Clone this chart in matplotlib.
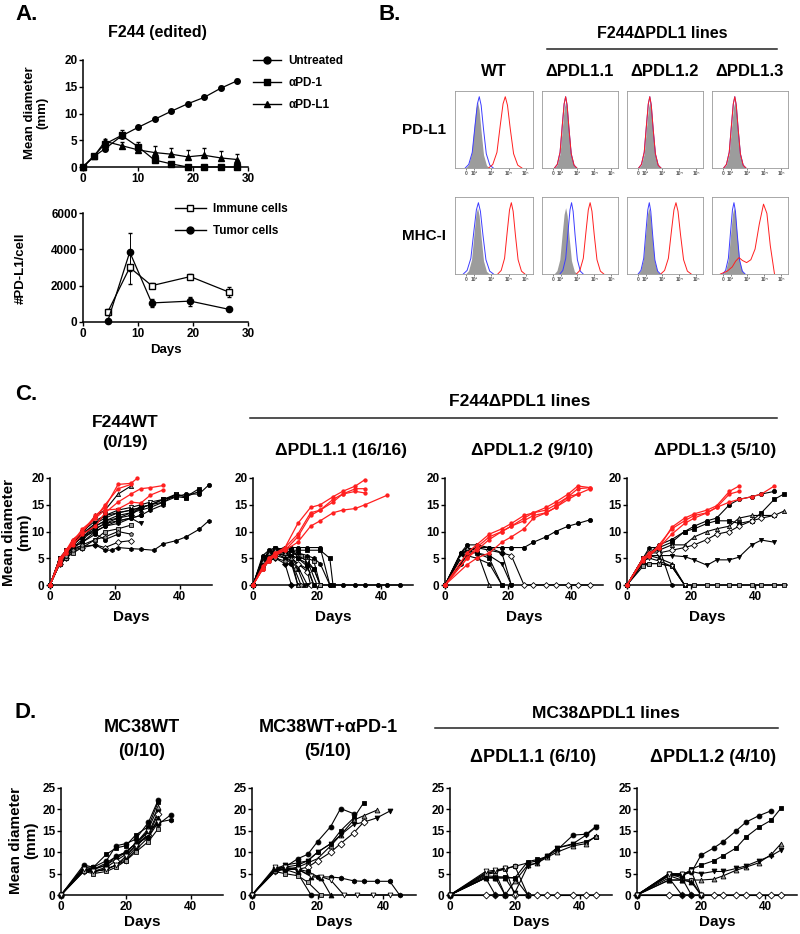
import matplotlib
matplotlib.use('Agg')

import matplotlib.pyplot as plt
from matplotlib.lines import Line2D

plt.rcParams['font.family'] = ['Liberation Sans', 'DejaVu Sans']
plt.rcParams['font.weight'] = 'bold'
plt.rcParams['axes.labelweight'] = 'bold'
plt.rcParams['axes.linewidth'] = 1.1

# ---------------- panel A data ----------------
a_days = [0, 2, 4, 7, 10, 13, 16, 19, 22, 25, 28]
untreated = [0, 2.0, 3.4, 5.8, 7.4, 8.9, 10.4, 11.8, 13.0, 14.7, 16.1]
untreated_err = [0, 0.2, 0.3, 0.4, 0.3, 0.3, 0.3, 0.3, 0.3, 0.4, 0.4]
apd1 = [0, 2.1, 4.3, 5.9, 3.8, 1.3, 0.6, 0, 0, 0, 0]
apd1_err = [0, 0.2, 0.4, 1.0, 0.8, 0.5, 0.3, 0, 0, 0, 0]
apdl1 = [0, 2.0, 4.8, 4.0, 3.2, 2.7, 2.4, 1.9, 2.2, 1.7, 1.4]
apdl1_err = [0, 0.3, 0.4, 0.6, 1.0, 1.3, 1.2, 1.3, 1.4, 1.3, 1.0]

pd_days = [4.5, 8.5, 12.5, 19.5, 26.5]
immune = [550, 3000, 2000, 2500, 1650]
immune_err = [150, 900, 150, 120, 300]
tumor = [50, 3850, 1050, 1150, 700]
tumor_err = [0, 1050, 200, 250, 80]

# ---------------- panel B data (flow histograms) ----------------
b_cols = ['WT', '\u0394PDL1.1', '\u0394PDL1.2', '\u0394PDL1.3']
b_rows = ['PD-L1', 'MHC-I']
b_tick_pos = [1.55, 2, 3, 4, 5]
b_tick_lab = ['0', '10\u00b2', '10\u00b3', '10\u2074', '10\u2075']
# one peak shape (log decades from the mode, % of mode)
prof_dx = [-0.6, -0.45, -0.3, -0.18, -0.08, 0, 0.08, 0.18, 0.3, 0.45, 0.6]
prof_h = [0, 5, 22, 60, 90, 100, 88, 55, 20, 4, 0]
iso_center = [[2.2, 2.3, 2.25, 2.25], [2.2, 2.3, 2.2, 2.2]]
iso_width = [[1.15, 1.1, 1.1, 1.1], [1.15, 1.15, 1.1, 1.1]]
blue_center = [[2.3, 2.3, 2.25, 2.25], [2.25, 2.65, 2.22, 2.2]]
blue_width = [[1.35, 1.1, 1.1, 1.1], [1.45, 1.15, 1.1, 1.1]]
red_center = [[3.8, 2.3, 2.25, 2.25], [4.15, 3.75, 3.8, None]]
red_width = [[1.6, 1.1, 1.1, 1.1], [1.3, 1.35, 1.5, None]]
red_bimodal_x = [1.4, 1.8, 2.1, 2.3, 2.5, 2.7, 2.95, 3.2, 3.45, 3.7, 3.95, 4.15, 4.35, 4.6]
red_bimodal_y = [0, 4, 10, 18, 23, 19, 16, 20, 35, 70, 98, 85, 40, 0]

# ---------------- panel C data (individual mice) ----------------
c_wt_red = [
    ([0, 3, 5, 7, 10, 14, 17, 21, 25, 27], [0, 5, 6.5, 8.5, 10, 13, 14.5, 18.8, 19, 20]),
    ([0, 3, 5, 7, 10, 14, 17, 21, 25], [0, 4.5, 6, 8, 10.5, 12.5, 15, 18, 18.8]),
    ([0, 3, 5, 7, 10, 14, 17, 21, 25, 28, 31, 35], [0, 4, 6, 7.5, 9.5, 11, 13.5, 15.5, 17, 18, 18.2, 18.6]),
    ([0, 3, 5, 7, 10, 14, 17, 21, 25, 28, 31, 35], [0, 4.5, 6.5, 8, 10, 12.5, 14, 14.2, 15.5, 15.3, 16.8, 17.8]),
]
c_wt_black = [
    ([0, 3, 5, 7, 10, 14, 17, 21, 25, 28, 31, 35, 39, 42, 46, 49],
     [0, 5, 6.5, 8, 9.5, 11.5, 12.5, 13.5, 14, 14.5, 15, 16, 16.5, 17, 17, 18.7]),
    ([0, 3, 5, 7, 10, 14, 17, 21, 25, 28, 31, 35, 39, 42, 46],
     [0, 4.5, 6, 7.5, 9, 11, 12, 13, 13.5, 14.5, 15, 15.5, 17, 16.5, 18]),
    ([0, 3, 5, 7, 10, 14, 17, 21, 25], [0, 5, 6, 8.5, 9.5, 13, 14, 17, 18.5]),
    ([0, 3, 5, 7, 10, 14, 17, 21, 25, 28], [0, 4, 6, 7, 8.5, 10.5, 11.5, 12, 12.5, 11.5]),
    ([0, 3, 5, 7, 10, 14, 17, 21, 25], [0, 4, 5, 6.5, 7, 7.5, 7, 8, 8.3]),
    ([0, 3, 5, 7, 10, 14, 17, 19, 21, 25, 28, 32, 35, 39, 42, 46, 49],
     [0, 4, 6, 7, 7.2, 7.5, 6.5, 6.5, 7, 6.8, 6.7, 6.5, 7.7, 8.3, 9, 10.4, 12]),
    ([0, 3, 5, 7, 10, 14, 17, 21], [0, 5, 6, 7, 8, 9.5, 8.5, 9.5]),
    ([0, 3, 5, 7, 10, 14, 17, 21, 25], [0, 4, 5, 6, 7, 8.5, 10, 10.5, 11.2]),
    ([0, 3, 5, 7, 10, 14, 17, 21, 25, 28, 31, 35, 39, 42],
     [0, 4.5, 6.5, 8, 9.5, 11, 12, 12.5, 13.5, 14, 14.5, 15.5, 16.5, 16.3]),
    ([0, 3, 5, 7, 10, 14, 17, 21, 25, 28, 31, 35, 39],
     [0, 5, 6, 7.5, 10, 12, 13, 14, 14.5, 15, 15.5, 16, 17]),
    ([0, 3, 5, 7, 10, 14, 17, 21, 25, 28], [0, 4.5, 6, 7.5, 9, 10.5, 11.5, 12.5, 13, 14.5]),
    ([0, 3, 5, 7, 10, 14, 17, 21, 25, 28, 31, 35], [0, 4, 5.5, 7, 8, 10, 11, 11.5, 12.5, 13, 14, 15]),
    ([0, 3, 5, 7, 10, 14, 17, 21, 25], [0, 4.5, 5.5, 6.5, 7.5, 8.5, 9, 10, 9.5]),
    ([0, 3, 5, 7, 10, 14, 17, 21, 25, 28], [0, 4.5, 6.5, 7.5, 9, 10, 11, 12, 12.5, 13]),
    ([0, 3, 5, 7, 10, 14, 17, 21, 25, 28, 31, 35, 39, 42, 46],
     [0, 5, 6.5, 8, 9.5, 11.5, 13, 13.5, 14, 14.5, 15, 16, 16.8, 16.5, 17.5]),
]

c_p1_red = [
    ([0, 3, 5, 7, 10, 14, 18, 21, 25, 28, 32, 35], [0, 3, 4.5, 6, 7, 11.5, 14.5, 15, 16.5, 17.5, 18.5, 19.7]),
    ([0, 3, 5, 7, 10, 14, 18, 21, 25, 28, 32, 35], [0, 3, 5, 5.5, 7, 9.5, 13.5, 14, 16, 17, 18, 18]),
    ([0, 3, 5, 7, 10, 14, 18, 21, 25, 28, 32, 35], [0, 3.5, 5, 6, 6.5, 9, 13, 14, 15.5, 17, 17.5, 17.2]),
    ([0, 3, 5, 7, 10, 14, 18, 21, 25, 28, 32, 35, 42],
     [0, 3, 4.5, 5.5, 6.5, 8, 11, 12, 13.5, 14, 14.3, 15, 16.8]),
]
c_p1_black = [
    ([0, 3, 5, 7, 10, 12, 14, 17, 21, 24], [0, 4, 5.5, 6.5, 7, 7, 7, 7, 7, 0]),
    ([0, 3, 5, 7, 10, 12, 14, 17, 19, 21], [0, 5, 6, 6.5, 6, 5.5, 5, 4, 3, 0]),
    ([0, 3, 5, 7, 10, 12, 14, 17, 19], [0, 4.5, 5.5, 6, 5.5, 5, 4, 3, 0]),
    ([0, 3, 5, 7, 10, 12, 14, 17], [0, 5, 6, 6.5, 6, 5, 3.5, 0]),
    ([0, 3, 5, 7, 10, 12, 14, 17, 18], [0, 4, 6, 6, 5.5, 5, 4, 2.5, 0]),
    ([0, 3, 5, 7, 10, 12, 14], [0, 3.5, 5, 5.5, 5, 4, 0]),
    ([0, 3, 5, 7, 10, 12, 14, 17, 19, 21, 24, 28, 32, 35, 39, 42, 46],
     [0, 4, 5, 6, 6, 6.5, 5.5, 4.5, 3, 0, 0, 0, 0, 0, 0, 0, 0]),
    ([0, 3, 5, 7, 10, 12, 15, 17, 19, 21], [0, 5, 6, 7, 6.5, 6, 5.5, 5, 4.5, 0]),
    ([0, 3, 5, 7, 10, 12, 14, 16], [0, 4.5, 5.5, 6, 5, 4.5, 3, 0]),
    ([0, 3, 5, 7, 10, 12, 14, 17, 20], [0, 5, 6, 6.5, 6.5, 6, 5.5, 4.5, 0]),
    ([0, 3, 5, 7, 10, 12], [0, 4, 5, 5, 4, 0]),
    ([0, 3, 5, 7, 10, 12, 14, 17, 19, 21, 24], [0, 4.5, 5.5, 6.5, 7, 6.5, 6, 5.5, 5, 4, 0]),
    ([0, 3, 5, 7, 10, 13, 15], [0, 3, 4.5, 5, 4.5, 3, 0]),
    ([0, 3, 5, 7, 10, 12, 14, 17, 19], [0, 5.5, 6.5, 7, 6.5, 5.5, 5, 3.5, 0]),
    ([0, 3, 5, 7, 10, 12, 14, 17, 21, 24, 25], [0, 4, 5, 6, 6, 6.5, 6.5, 6.5, 6.5, 5, 0]),
    ([0, 3, 5, 7, 10, 12, 14], [0, 4.5, 6, 6.5, 6, 5, 0]),
]

c_p2_red = [
    ([0, 7, 10, 14, 18, 21, 25, 28, 32, 35, 39, 42, 46], [0, 5, 7, 9, 10, 11, 12.5, 13.5, 14.5, 15.5, 17, 18.5, 18.2]),
    ([0, 7, 10, 14, 18, 21, 25, 28, 32, 35, 39, 42, 46], [0, 6, 7.5, 9.5, 10.5, 11.5, 13, 13.5, 14, 15, 16.5, 18, 18.2]),
    ([0, 7, 10, 14, 18, 21, 25, 28, 32, 35, 39, 42, 46], [0, 5, 6.5, 8.5, 10, 11, 12, 13, 13.5, 14.5, 16, 17, 18]),
    ([0, 7, 10, 14, 18, 21, 25, 28, 32, 35, 39, 42], [0, 3.8, 5, 6, 8, 9, 10.5, 12.5, 13.5, 14.5, 16.5, 17]),
]
c_p2_black = [
    ([0, 5, 7, 10, 14, 18, 21, 25, 28, 32, 35, 39, 42, 46], [0, 6, 6.5, 7, 7, 7, 7, 7, 8, 9, 10, 11, 11.5, 12.2]),
    ([0, 5, 7, 10, 14, 18], [0, 5.5, 6.5, 6, 5, 0]),
    ([0, 5, 7, 10, 14], [0, 6, 7, 6.5, 0]),
    ([0, 5, 7, 10, 14, 18, 21], [0, 5, 6, 6, 5.5, 4, 0]),
    ([0, 5, 7, 10, 14, 18, 21, 25, 28, 32, 35, 39, 42, 46], [0, 5, 6, 7, 6.5, 6, 5.5, 0, 0, 0, 0, 0, 0, 0]),
    ([0, 5, 7, 10, 14, 18], [0, 4, 5.5, 5, 4, 0]),
    ([0, 5, 7, 10, 14, 18, 21], [0, 6, 7.5, 7.5, 7, 6, 0]),
]

c_p3_red = [
    ([0, 5, 7, 10, 14, 18, 21, 25, 28, 32, 35], [0, 5, 5.5, 7, 10.8, 12.5, 13.3, 14, 14.8, 17.5, 18.5]),
    ([0, 5, 7, 10, 14, 18, 21, 25, 28, 32, 35], [0, 4.5, 5.5, 7.5, 10.5, 12, 13, 13.5, 14.5, 17, 17.5]),
    ([0, 5, 7, 10, 14, 18, 21, 25, 28, 32, 35, 39, 42, 46],
     [0, 5, 6, 7, 9.5, 11.5, 12.5, 13.5, 14.5, 15.5, 16, 16.5, 17, 18.5]),
]
c_p3_black = [
    ([0, 5, 7, 10, 14, 18, 21, 25, 28, 32, 35, 39, 42, 46],
     [0, 5, 6, 7.5, 8.5, 10, 11, 12, 12.5, 15, 16, 16.5, 17, 17.5]),
    ([0, 5, 7, 10, 14, 18, 21, 25, 28, 32, 35, 39, 42, 46, 49],
     [0, 4.5, 5.5, 7, 8, 10, 10.5, 11.5, 12, 12, 11.5, 12, 13.5, 16, 17]),
    ([0, 5, 7, 10, 14, 18, 21, 25, 28, 32, 35, 39, 42, 46, 49],
     [0, 5, 6, 6.5, 7.5, 7.5, 9, 10, 10.5, 11, 12.5, 13, 13, 13, 13.8]),
    ([0, 5, 7, 10, 14, 18, 21, 25, 28, 32, 35, 39, 42, 46],
     [0, 5, 5.5, 5.5, 5.5, 5.3, 4.7, 3.7, 4.7, 4.7, 5.2, 7.5, 8.4, 8.0]),
    ([0, 5, 7, 10, 14, 18, 21, 25, 28, 32, 35, 39, 42, 46],
     [0, 4, 6, 6, 6.5, 7, 7.5, 8.5, 9.5, 10, 11, 12, 12.5, 13]),
    ([0, 5, 7, 10, 14], [0, 5, 7, 7, 0]),
    ([0, 5, 7, 10, 14, 18], [0, 4, 4, 4, 3.5, 0]),
    ([0, 5, 7, 10, 14, 18, 21, 25, 28, 32, 35, 39, 42, 46, 49],
     [0, 3.5, 4, 4, 3.5, 0, 0, 0, 0, 0, 0, 0, 0, 0, 0]),
    ([0, 5, 7, 10, 14, 18], [0, 5, 5.5, 5, 4, 0]),
    ([0, 5, 7, 10, 14, 18], [0, 4.5, 5, 4.5, 3.5, 0]),
]

# ---------------- panel D data ----------------
d_wt = [
    ([0, 7, 10, 14, 17, 20, 23, 27, 30], [0, 7, 6.5, 8, 11.5, 12, 13, 17, 22.2]),
    ([0, 7, 10, 14, 17, 20, 23, 27, 30], [0, 6.5, 6.5, 9.5, 11, 11.5, 14, 16, 21.8]),
    ([0, 7, 10, 14, 17, 20, 23, 27, 30], [0, 6, 6, 7, 8.5, 10, 12, 15.5, 20.5]),
    ([0, 7, 10, 14, 17, 20, 23, 27, 30], [0, 6, 5.5, 6, 7, 8.5, 11, 14.5, 19.5]),
    ([0, 7, 10, 14, 17, 20, 23, 27, 30], [0, 5.5, 5.5, 6.5, 8, 9.5, 11.5, 14, 19]),
    ([0, 7, 10, 14, 17, 20, 23, 27, 30, 34], [0, 6, 5.5, 6, 7, 8, 10.5, 13.5, 17, 17.6]),
    ([0, 7, 10, 14, 17, 20, 23, 27, 30, 34], [0, 6, 6, 7, 9, 10, 12, 15, 16.5, 18.8]),
    ([0, 7, 10, 14, 17, 20, 23, 27, 30], [0, 5.5, 5, 5.5, 6.5, 8, 10, 12.5, 15.5]),
    ([0, 7, 10, 14, 17, 20, 23, 27, 30], [0, 6.5, 6, 7.5, 9, 10, 12, 13.5, 18]),
    ([0, 7, 10, 14, 17, 20, 23, 27, 30], [0, 6, 5.5, 6, 7, 9, 11.5, 15, 17]),
]
d_apd1 = [
    ([0, 7, 10, 14, 17, 20, 24, 27, 31], [0, 6, 6.5, 8.5, 9.5, 12.5, 16, 20.2, 19]),
    ([0, 7, 10, 14, 17, 20, 24, 27, 31, 34], [0, 6, 6.5, 7, 8, 10, 12, 15, 18, 21.5]),
    ([0, 7, 10, 14, 17, 20, 24, 27, 31, 34, 38], [0, 6, 6, 6.5, 7.5, 8.5, 11.5, 14, 17.5, 18.5, 19.8]),
    ([0, 7, 10, 14, 17, 20, 24, 27, 31, 34, 38, 42], [0, 6, 7, 7.5, 8, 10, 12, 14, 16.5, 17, 18, 19.6]),
    ([0, 7, 10, 14, 17, 20, 24, 27, 31, 34], [0, 5.5, 6, 6, 6.5, 8, 10, 12, 14.5, 17]),
    ([0, 7, 10, 14, 17, 20, 24, 27, 31, 34, 38, 42, 45], [0, 6, 6, 6, 5.5, 4.3, 4.2, 4, 3.3, 3.2, 3.2, 3.2, 0]),
    ([0, 7, 10, 14, 18], [0, 6, 6, 5, 0]),
    ([0, 7, 10, 14, 17, 21], [0, 5.5, 5, 4.5, 3, 0]),
    ([0, 7, 10, 14, 18, 21, 24], [0, 6, 6, 6, 4.3, 4, 0]),
    ([0, 7, 10, 14, 18, 21, 24, 28, 32, 37, 42], [0, 6.5, 6.5, 6, 4.5, 4.3, 3.5, 0, 0, 0, 0]),
]
d_p1 = [
    ([0, 11, 14, 17, 20, 24, 27, 30, 33, 38, 42, 45], [0, 5.2, 5.5, 6.2, 6.7, 7.5, 8, 9, 10.5, 14, 14.2, 16]),
    ([0, 11, 14, 17, 20, 24, 27, 30, 33, 38, 42, 45], [0, 4.5, 4.3, 4.2, 4, 7.8, 8.3, 9, 11, 11.8, 12.5, 13.5]),
    ([0, 11, 14, 17, 20, 24, 27, 30, 33, 38, 42, 45], [0, 4.8, 5.2, 0, 3.2, 7, 7.5, 8.8, 10, 11.5, 12, 13.8]),
    ([0, 11, 14, 17, 20, 24, 27, 30, 33, 38, 42, 45], [0, 4, 4, 4, 0.5, 6.8, 7.5, 9.2, 11, 12, 14, 15.8]),
    ([0, 11, 14, 17, 20, 24, 27, 30, 33, 38, 42, 45], [0, 0, 0, 0, 0, 0, 0, 0, 0, 0, 0, 0]),
    ([0, 11, 14], [0, 4, 0]),
    ([0, 11, 14, 17], [0, 4.2, 4, 0]),
    ([0, 11, 14, 17, 20, 24], [0, 5, 5.5, 6, 6.8, 0]),
    ([0, 11, 14, 17, 20, 24], [0, 4, 4, 4, 4, 0]),
    ([0, 11, 14, 17, 20], [0, 5.5, 5.8, 6.3, 0]),
]
d_p2 = [
    ([0, 10, 14, 17, 20, 24, 27, 31, 34, 38, 42], [0, 4.8, 4.8, 5.3, 9.3, 11, 12.5, 15, 17, 18.5, 19.7]),
    ([0, 10, 14, 17, 20, 24, 27, 31, 34, 38, 42, 45], [0, 4.5, 4.5, 6, 7, 8, 9.2, 11, 13.5, 15.8, 17.5, 20.3]),
    ([0, 10, 14, 17, 20, 24, 27, 31, 34, 38, 42, 45], [0, 3.5, 3.5, 3.5, 3.5, 3.7, 4.5, 5.8, 6.5, 7.5, 9.5, 12]),
    ([0, 10, 14, 17, 20, 24, 27, 31, 34, 38, 42, 45], [0, 4.8, 4.5, 5.5, 5, 5.5, 5.5, 6.2, 6.8, 8, 9.2, 10.5]),
    ([0, 10, 14, 17, 20, 24, 27, 31, 34, 38, 42, 45], [0, 0, 0, 0, 0, 0, 0, 0, 0, 0, 0, 0]),
    ([0, 10, 14], [0, 4, 0]),
    ([0, 10, 14, 17], [0, 5, 4, 0]),
    ([0, 10, 14, 17, 20], [0, 4.5, 3.5, 3.5, 0]),
    ([0, 10, 14, 17, 20], [0, 3.5, 3.5, 3, 0]),
    ([0, 10, 14, 17, 20], [0, 5, 5, 5.5, 0]),
]

MARKS = ['o', 's', '^', 'v', 'D', 'h', 'o', 's', '^', 'v', 'D', 'h', 'p']
FACES = ['k', 'k', '0.6', 'k', 'white', 'k', 'k', '0.6', 'k', 'white', 'k', 'k', '0.6']
RED = '#ff1f1f'

W, H = 800, 934
fig = plt.figure(figsize=(8, 9.34), dpi=100)


def add_ax(x0, y0, x1, y1):
    return fig.add_axes([x0 / W, 1 - y1 / H, (x1 - x0) / W, (y1 - y0) / H])


def ftext(x, y, s, size, ha='center', rot=0, ls=1.1):
    fig.text(x / W, 1 - y / H, s, fontsize=size, ha=ha, va='center', fontweight='bold',
             rotation=rot, linespacing=ls, multialignment='center')


def hline(x0, x1, y):
    fig.add_artist(Line2D([x0 / W, x1 / W], [1 - y / H, 1 - y / H], color='#222222', lw=1.1))


def prism(ax, xmax, ymax, xticks, yticks):
    for s in ['top', 'right']:
        ax.spines[s].set_visible(False)
    ax.set_xlim(0, xmax)
    ax.set_ylim(0, ymax)
    ax.set_xticks(xticks)
    ax.set_yticks(yticks)
    ax.tick_params(direction='out', length=3, width=1.0, labelsize=8.5, pad=1)


def draw_mice(ax, curves, color, ms):
    for i, (d, v) in enumerate(curves):
        if color == RED:
            ax.plot(d, v, color=RED, lw=0.9, marker='o', ms=ms * 0.7, mfc=RED, mec=RED,
                    clip_on=False, zorder=4)
        else:
            ax.plot(d, v, color='k', lw=0.8, marker=MARKS[i % len(MARKS)], ms=ms,
                    mfc=FACES[i % len(FACES)], mec='k', mew=0.6, clip_on=False, zorder=3)


def key(marker, face='k'):
    return Line2D([], [], color='k', lw=1.0, marker=marker, ms=5, mfc=face, mec='k')


# ================= A =================
ftext(15, 15, 'A.', 16, ha='left')
ftext(157, 33, 'F244 (edited)', 11.5)
ax = add_ax(83, 60, 248, 167)
prism(ax, 30, 20, [0, 10, 20, 30], [0, 5, 10, 15, 20])
zero = [0] * len(a_days)
ax.errorbar(a_days, untreated, yerr=[zero, untreated_err], color='k', lw=0.9, marker='o', ms=4,
            capsize=1.5, elinewidth=0.7, clip_on=False)
ax.errorbar(a_days, apd1, yerr=[zero, apd1_err], color='k', lw=0.9, marker='s', ms=4,
            capsize=1.5, elinewidth=0.7, clip_on=False)
ax.errorbar(a_days, apdl1, yerr=[zero, apdl1_err], color='k', lw=0.9, marker='^', ms=4,
            capsize=1.5, elinewidth=0.7, clip_on=False)
ax.legend([key('o'), key('s'), key('^')], ['Untreated', '\u03b1PD-1', '\u03b1PD-L1'],
          loc='upper left', bbox_to_anchor=(253 / W, 1 - 55 / H), bbox_transform=fig.transFigure,
          frameon=False, fontsize=8.5, handlelength=2.4, labelspacing=0.85, borderpad=0,
          borderaxespad=0, handletextpad=0.6)
ftext(36, 113, 'Mean diameter\n(mm)', 9.5, rot=90)

ax = add_ax(83, 213, 248, 322)
prism(ax, 30, 6000, [0, 10, 20, 30], [0, 2000, 4000, 6000])
ax.errorbar(pd_days, immune, yerr=immune_err, color='k', lw=0.9, marker='s', ms=4.5, mfc='white',
            capsize=1.5, elinewidth=0.7, clip_on=False)
ax.errorbar(pd_days, tumor, yerr=tumor_err, color='k', lw=0.9, marker='o', ms=4.5,
            capsize=1.5, elinewidth=0.7, clip_on=False)
ax.legend([key('s', 'white'), key('o')], ['Immune cells', 'Tumor cells'],
          loc='upper left', bbox_to_anchor=(175 / W, 1 - 203 / H), bbox_transform=fig.transFigure,
          frameon=False, fontsize=8.5, handlelength=2.6, labelspacing=0.85, borderpad=0,
          borderaxespad=0, handletextpad=0.6)
ax.set_xlabel('Days', fontsize=9.5, labelpad=3)
ftext(21, 268, '#PD-L1/cell', 9.5, rot=90)

# ================= B =================
ftext(378, 15, 'B.', 16, ha='left')
ftext(662, 33, 'F244\u0394PDL1 lines', 11.5)
hline(547, 777, 49)
bx = [(455, 533), (542, 618), (627, 703), (712, 788)]
by = [(91, 168), (197, 274)]
for c, name in enumerate(b_cols):
    ftext((bx[c][0] + bx[c][1]) / 2, 72, name, 12)
for r, name in enumerate(b_rows):
    ftext(446, (by[r][0] + by[r][1]) / 2, name, 11, ha='right')
    for c in range(4):
        ax = add_ax(bx[c][0], by[r][0], bx[c][1], by[r][1])
        gx = [iso_center[r][c] + d * iso_width[r][c] for d in prof_dx]
        gy = [h * 0.93 for h in prof_h]
        ax.fill_between(gx, gy, color='#9c9c9c', lw=0)
        ux = [blue_center[r][c] + d * blue_width[r][c] for d in prof_dx]
        ax.plot(ux, prof_h, color='#3c3cff', lw=0.7)
        if red_center[r][c] is None:
            ax.plot(red_bimodal_x, red_bimodal_y, color=RED, lw=0.7)
        else:
            rx = [red_center[r][c] + d * red_width[r][c] for d in prof_dx]
            ax.plot(rx, prof_h, color=RED, lw=0.7)
        ax.set_xlim(0.9, 5.4)
        ax.set_ylim(0, 108)
        ax.set_yticks([])
        ax.set_xticks(b_tick_pos)
        ax.set_xticklabels(b_tick_lab)
        ax.tick_params(axis='x', length=1.5, width=0.5, labelsize=3.5, pad=1, colors='#555555')
        for s in ax.spines.values():
            s.set_color('#9a9a9a')
            s.set_linewidth(0.6)

# ================= C =================
ftext(15, 395, 'C.', 16, ha='left')
ftext(520, 402, 'F244\u0394PDL1 lines', 12.5)
hline(250, 777, 418)
ftext(125, 422, 'F244WT', 12.5)
ftext(125, 443, '(0/19)', 12.5)
c_titles = ['\u0394PDL1.1 (16/16)', '\u0394PDL1.2 (9/10)', '\u0394PDL1.3 (5/10)']
c_x = [(50, 212), (253, 413), (445, 603), (627, 787)]
c_data = [(c_wt_red, c_wt_black), (c_p1_red, c_p1_black), (c_p2_red, c_p2_black), (c_p3_red, c_p3_black)]
for i, (x0, x1) in enumerate(c_x):
    ax = add_ax(x0, 478, x1, 585)
    prism(ax, 50, 20, [0, 20, 40], [0, 5, 10, 15, 20])
    reds, blacks = c_data[i]
    draw_mice(ax, blacks, 'k', 3)
    draw_mice(ax, reds, RED, 3)
    ax.set_xlabel('Days', fontsize=11, labelpad=5)
    if i > 0:
        ftext((x0 + x1) / 2 + 8, 450, c_titles[i - 1], 12.5)
ftext(17, 532, 'Mean diameter\n(mm)', 11, rot=90)

# ================= D =================
ftext(15, 712, 'D.', 16, ha='left')
ftext(606, 714, 'MC38\u0394PDL1 lines', 12.5)
hline(435, 778, 728)
ftext(142, 727, 'MC38WT', 13)
ftext(142, 752, '(0/10)', 13)
ftext(328, 727, 'MC38WT+\u03b1PD-1', 13)
ftext(328, 752, '(5/10)', 13)
ftext(533, 758, '\u0394PDL1.1 (6/10)', 13)
ftext(713, 758, '\u0394PDL1.2 (4/10)', 13)
d_x = [(61, 223), (252, 416), (450, 612), (637, 797)]
d_data = [d_wt, d_apd1, d_p1, d_p2]
for i, (x0, x1) in enumerate(d_x):
    ax = add_ax(x0, 788, x1, 895)
    prism(ax, 50, 25, [0, 20, 40], [0, 5, 10, 15, 20, 25])
    draw_mice(ax, d_data[i], 'k', 3.5)
    ax.set_xlabel('Days', fontsize=11, labelpad=2)
ftext(24, 840, 'Mean diameter\n(mm)', 11, rot=90)

fig.savefig('out.png', dpi=100)
